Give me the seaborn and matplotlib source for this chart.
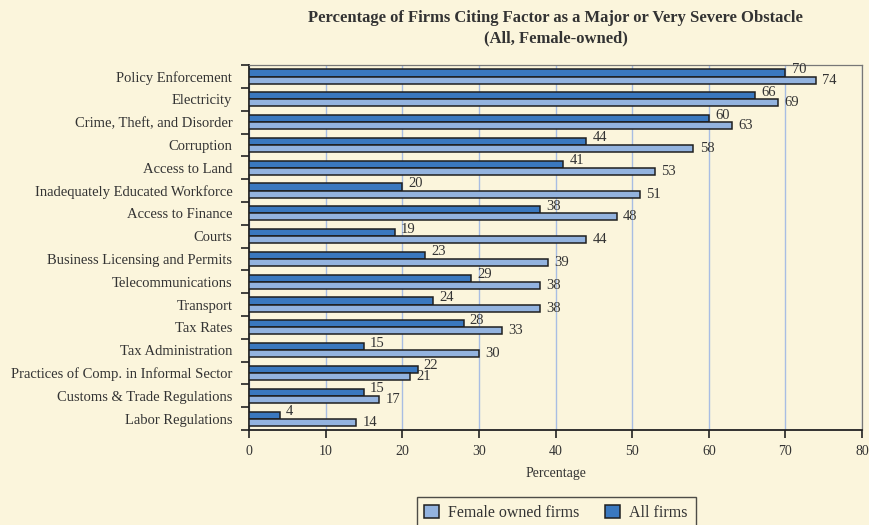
import matplotlib
matplotlib.use("Agg")
import matplotlib.pyplot as plt
import seaborn as sns
import pandas as pd

# --- data ---
factors = [
    "Policy Enforcement", "Electricity", "Crime, Theft, and Disorder",
    "Corruption", "Access to Land", "Inadequately Educated Workforce",
    "Access to Finance", "Courts", "Business Licensing and Permits",
    "Telecommunications", "Transport", "Tax Rates", "Tax Administration",
    "Practices of Comp. in Informal Sector", "Customs & Trade Regulations",
    "Labor Regulations",
]
all_firms = [70, 66, 60, 44, 41, 20, 38, 19, 23, 29, 24, 28, 15, 22, 15, 4]
female_firms = [74, 69, 63, 58, 53, 51, 48, 44, 39, 38, 38, 33, 30, 21, 17, 14]
series_names = ["All firms", "Female owned firms"]
x_ticks = [0, 10, 20, 30, 40, 50, 60, 70, 80]

BG = "#FBF5DC"
TXT = "#333333"
colors = {"All firms": "#3A78BF", "Female owned firms": "#93B3DF"}

df = pd.DataFrame({
    "factor": factors * 2,
    "value": all_firms + female_firms,
    "series": [series_names[0]] * len(factors) + [series_names[1]] * len(factors),
})

sns.set_style("white")
plt.rcParams["font.family"] = ["Liberation Serif", "DejaVu Serif"]
plt.rcParams["text.color"] = TXT
plt.rcParams["axes.labelcolor"] = TXT
plt.rcParams["xtick.color"] = TXT
plt.rcParams["ytick.color"] = TXT

fig = plt.figure(figsize=(8.69, 5.25), dpi=100, facecolor=BG)
ax = fig.add_axes([0.2865, 0.181, 0.7055, 0.695], facecolor=BG)

sns.barplot(data=df, y="factor", x="value", hue="series", hue_order=series_names,
            palette=colors, saturation=1, orient="h", width=0.62,
            edgecolor="#1f1f1f", linewidth=1.1, ax=ax, zorder=3, legend=True)

# value labels
for cont, vals, dy in zip(ax.containers, [all_firms, female_firms], [2.5, 0]):
    for bar, v in zip(cont, vals):
        ax.annotate(str(v), (bar.get_width(), bar.get_y() + bar.get_height() / 2),
                    xytext=(4.5, dy), textcoords="offset points",
                    va="center", ha="left", fontsize=10.5, color=TXT)

ax.set_xlim(0, 80)
ax.set_xticks(x_ticks)
ax.set_ylim(len(factors) - 0.5, -0.5)
ax.set_yticks(range(len(factors)))
ax.set_yticklabels(factors, fontsize=10.5)
ax.set_yticks([i - 0.5 for i in range(len(factors) + 1)], minor=True)
ax.tick_params(axis="y", which="major", left=True, length=0, pad=12)
ax.tick_params(axis="y", which="minor", left=True, length=6, width=1.2,
               color="#222222")
ax.tick_params(axis="x", which="major", bottom=True, length=6, width=1.2,
               color="#222222", labelsize=10, pad=5)
ax.set_ylabel("")
ax.set_xlabel("Percentage", fontsize=10, labelpad=6)

ax.grid(axis="x", color="#A8BDE3", linewidth=1, zorder=0)
ax.grid(axis="y", visible=False)
for side in ["left", "bottom"]:
    ax.spines[side].set_color("#222222")
    ax.spines[side].set_linewidth(1.3)
for side in ["top", "right"]:
    ax.spines[side].set_color("#777777")
    ax.spines[side].set_linewidth(0.9)

ax.set_title("Percentage of Firms Citing Factor as a Major or Very Severe Obstacle\n"
             "(All, Female-owned)", fontsize=12, fontweight="bold", pad=16,
             linespacing=1.4)

handles, labels = ax.get_legend_handles_labels()
ax.get_legend().remove()
leg = fig.legend([handles[1], handles[0]], [labels[1], labels[0]],
                 loc="upper center", bbox_to_anchor=(0.64, 0.053), ncol=2,
                 frameon=True, fancybox=False, fontsize=11.5, handlelength=0.9,
                 handleheight=0.9, handletextpad=0.6, columnspacing=1.6,
                 borderpad=0.5, borderaxespad=0)
leg.get_frame().set_facecolor(BG)
leg.get_frame().set_edgecolor("#222222")
leg.get_frame().set_linewidth(1)

fig.savefig("out.png", dpi=100, facecolor=BG)
